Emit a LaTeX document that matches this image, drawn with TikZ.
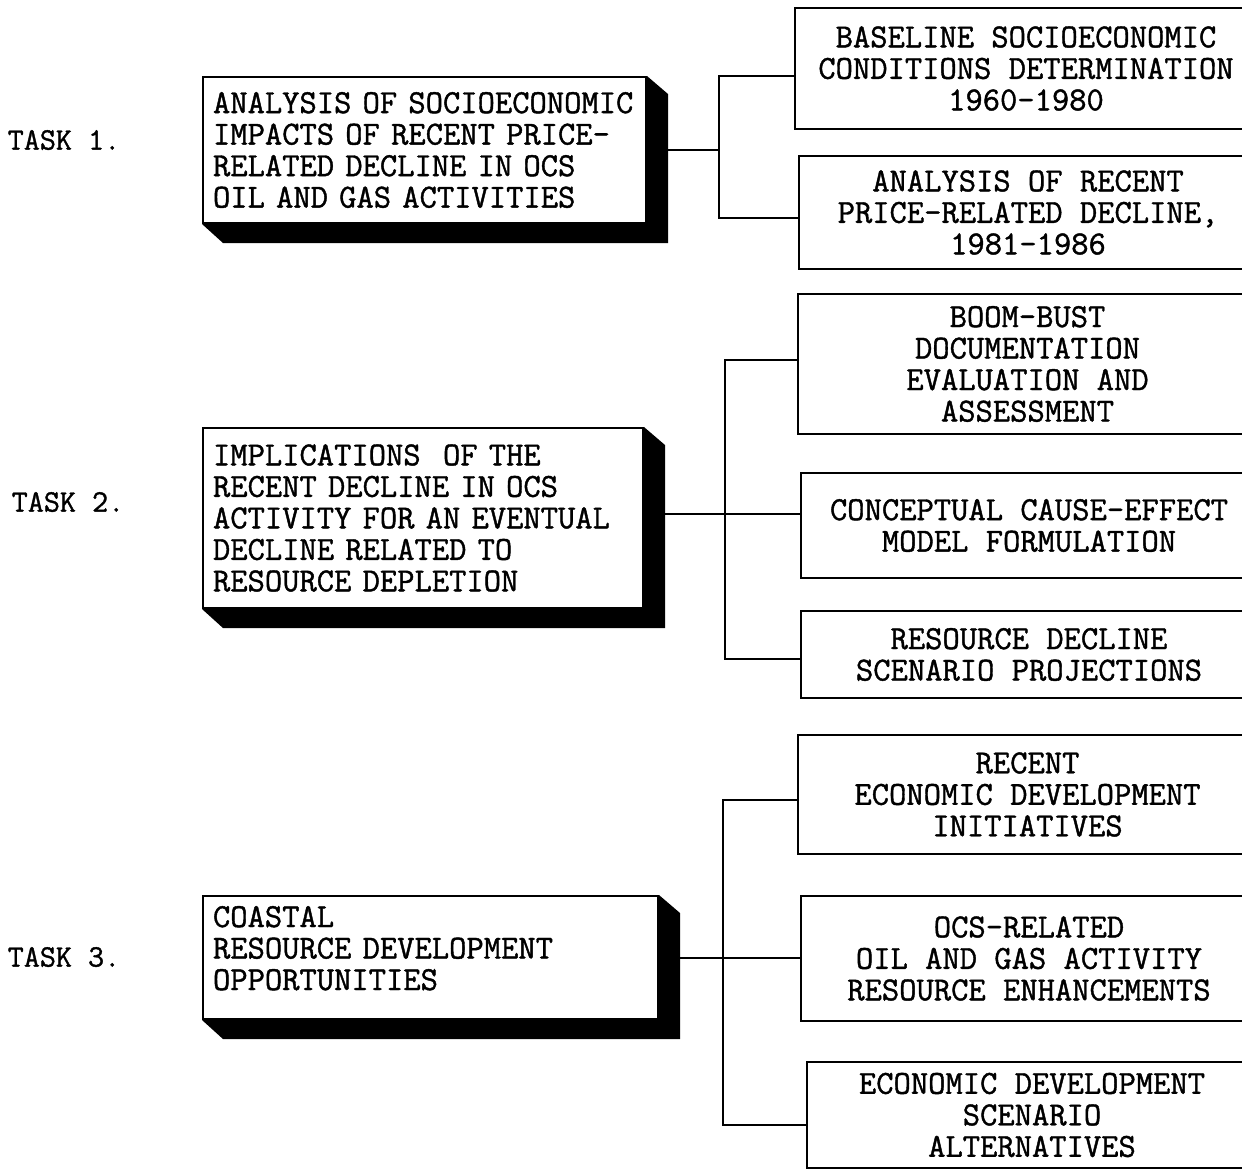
\documentclass[tikz,border=0pt]{standalone}
\usepackage{fontspec}
\usetikzlibrary{positioning}
\newfontfamily\printtt{Latin Modern Mono}[FakeBold=1.2]
\newcommand{\boxfont}{\printtt\fontsize{16.8pt}{15.75pt}\selectfont}
\newcommand{\taskfont}{\printtt\fontsize{15.6pt}{15pt}\selectfont}
\tikzset{%
   taskbox/.style={draw, line width=1pt, fill=white, anchor=north west, align=left, inner xsep=5pt, font=\boxfont},
   subbox/.style={draw, line width=1pt, anchor=north west, align=center, inner sep=2pt, font=\boxfont},
   tasklabel/.style={font=\taskfont},
   link/.style={line width=1pt},
}
\begin{document}
\begin{tikzpicture}[x=0.5pt, y=-0.5pt]
   \useasboundingbox (0,0) rectangle (1242,1169);
   % task labels
   \node[tasklabel] (task1) at (64,140) {TASK 1.};
   \node[tasklabel] (task2) at (68,502) {TASK 2.};
   \node[tasklabel] (task3) at (64,957) {TASK 3.};
   % task boxes
   \node[taskbox, text width=211.5pt, minimum height=73pt] (t1) at (202,76)
      {ANALYSIS OF SOCIOECONOMIC\\IMPACTS OF RECENT PRICE-\\RELATED DECLINE IN OCS\\OIL AND GAS ACTIVITIES};
   \node[taskbox, text width=210pt, minimum height=90pt] (t2) at (202,427)
      {IMPLICATIONS\ \ OF THE\\RECENT DECLINE IN OCS\\ACTIVITY FOR AN EVENTUAL\\DECLINE RELATED TO\\RESOURCE DEPLETION};
   \node[taskbox, text width=217.5pt, minimum height=61.5pt, text depth=41pt] (t3) at (202,895)
      {COASTAL\\RESOURCE DEVELOPMENT\\OPPORTUNITIES};
   \foreach \t in {t1,t2,t3}
      \fill (\t.north east) -- ++(10.5pt,-9pt) -- ([shift={(10.5pt,-9.5pt)}]\t.south east)
         -- ([shift={(10.5pt,-9.5pt)}]\t.south west) -- (\t.south west) -- (\t.south east) -- cycle;
   % sub tasks
   \node[subbox, minimum width=231pt, minimum height=60.5pt] (s1a) at (794,7)
      {BASELINE SOCIOECONOMIC\\CONDITIONS DETERMINATION\\1960-1980};
   \node[subbox, minimum width=229pt, minimum height=56.5pt] (s1b) at (798,155)
      {ANALYSIS OF RECENT\\PRICE-RELATED DECLINE,\\1981-1986};
   \node[subbox, minimum width=229.5pt, minimum height=70pt] (s2a) at (797,293)
      {BOOM-BUST\\DOCUMENTATION\\EVALUATION AND\\ASSESSMENT};
   \node[subbox, minimum width=228pt, minimum height=52.5pt] (s2b) at (800,472)
      {CONCEPTUAL CAUSE-EFFECT\\MODEL FORMULATION};
   \node[subbox, minimum width=228pt, minimum height=43.5pt] (s2c) at (800,610)
      {RESOURCE DECLINE\\SCENARIO PROJECTIONS};
   \node[subbox, minimum width=229.5pt, minimum height=59.5pt] (s3a) at (797,734)
      {RECENT\\ECONOMIC DEVELOPMENT\\INITIATIVES};
   \node[subbox, minimum width=228pt, minimum height=62.5pt] (s3b) at (800,895)
      {OCS-RELATED\\OIL AND GAS ACTIVITY\\RESOURCE ENHANCEMENTS};
   \node[subbox, minimum width=225pt, minimum height=53pt] (s3c) at (806,1061)
      {ECONOMIC DEVELOPMENT\\SCENARIO\\ALTERNATIVES};
   % connectors
   \coordinate (b1) at (719,148);
   \coordinate (b2) at (725,513);
   \coordinate (b3) at (723,955);
   \draw[link] ([xshift=10.5pt]t1.east) -- (t1.east -| b1);
   \draw[link] ([yshift=-3.75pt]s1a.west) -| (b1) |- ([yshift=-2.75pt]s1b.west);
   \draw[link] ([xshift=10.5pt,yshift=2pt]t2.east) -- ([yshift=2pt]t2.east -| s2b.west);
   \draw[link] ([yshift=2pt]s2a.west) -| (b2) |- ([yshift=-2pt]s2c.west);
   \draw[link] ([xshift=10.5pt]t3.east) -- (t3.east -| s3b.west);
   \draw[link] ([yshift=-2.75pt]s3a.west) -| (b3) |- ([yshift=-5pt]s3c.west);
\end{tikzpicture}
\end{document}
